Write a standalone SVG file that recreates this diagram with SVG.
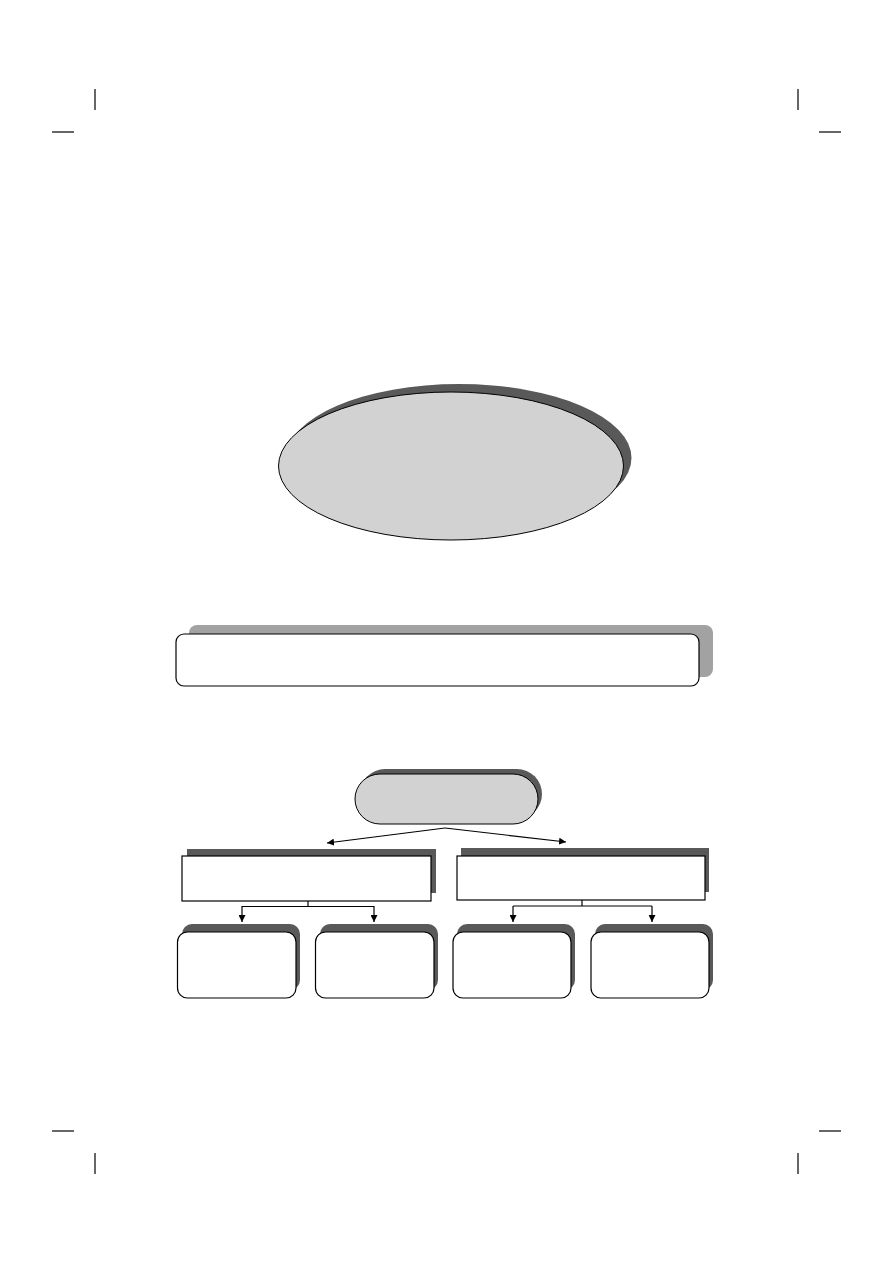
<svg xmlns="http://www.w3.org/2000/svg" width="893" height="1263" viewBox="0 0 893 1263">
<defs>
<style>
.crop{stroke:#000;stroke-width:1.2;fill:none}
.shd{fill:#595959;stroke:none}
.shl{fill:#a2a2a2;stroke:none}
.grey{fill:#d2d2d2;stroke:#000;stroke-width:1}
.white{fill:#fff;stroke:#000;stroke-width:1.2}
.conn{fill:none;stroke:#000;stroke-width:1.2}
</style>
<marker id="ah" viewBox="0 0 10 10" refX="10" refY="5" markerWidth="7" markerHeight="7" markerUnits="userSpaceOnUse" orient="auto">
<path d="M0,0 L10,5 L0,10 z" fill="#000"/>
</marker>
</defs>
<rect width="893" height="1263" fill="#fff"/>
<g id="cropmarks">
<line class="crop" x1="95" y1="89" x2="95" y2="110"/>
<line class="crop" x1="52" y1="132" x2="74" y2="132"/>
<line class="crop" x1="798" y1="89" x2="798" y2="110"/>
<line class="crop" x1="819" y1="132" x2="841" y2="132"/>
<line class="crop" x1="95" y1="1153" x2="95" y2="1174"/>
<line class="crop" x1="52" y1="1131" x2="74" y2="1131"/>
<line class="crop" x1="798" y1="1153" x2="798" y2="1174"/>
<line class="crop" x1="819" y1="1131" x2="841" y2="1131"/>
</g>
<g id="ellipse">
<ellipse class="shd" cx="459" cy="458" rx="172.5" ry="74"/>
<ellipse class="grey" cx="451" cy="466" rx="172.5" ry="74"/>
</g>
<g id="banner">
<rect class="shl" x="189" y="625" width="524" height="52" rx="8"/>
<rect class="white" x="176" y="634" width="523" height="52" rx="8"/>
</g>
<g id="pill">
<rect class="shd" x="360" y="769" width="182" height="50" rx="25"/>
<rect class="grey" x="355" y="774" width="183" height="50" rx="25"/>
</g>
<g id="box-left">
<rect class="shd" x="187" y="849" width="249" height="44"/>
<rect class="white" x="182" y="856" width="249" height="45"/>
</g>
<g id="box-right">
<rect class="shd" x="461" y="848" width="248" height="44"/>
<rect class="white" x="457" y="856" width="248" height="44"/>
</g>
<g id="child1">
<rect class="shd" x="182" y="924" width="118" height="66" rx="10"/>
<rect class="white" x="177.5" y="932" width="118.5" height="66" rx="10"/>
</g>
<g id="child2">
<rect class="shd" x="320" y="924" width="118" height="66" rx="10"/>
<rect class="white" x="315.5" y="932" width="118.5" height="66" rx="10"/>
</g>
<g id="child3">
<rect class="shd" x="457" y="924" width="118" height="66" rx="10"/>
<rect class="white" x="453" y="932" width="118" height="66" rx="10"/>
</g>
<g id="child4">
<rect class="shd" x="595" y="924" width="118" height="66" rx="10"/>
<rect class="white" x="591" y="932" width="118" height="66" rx="10"/>
</g>
<g id="connectors">
<line class="conn" x1="445" y1="828" x2="327" y2="843" marker-end="url(#ah)"/>
<line class="conn" x1="445" y1="828" x2="566" y2="842" marker-end="url(#ah)"/>
<line class="conn" x1="308" y1="901" x2="308" y2="906.5"/>
<line class="conn" x1="242" y1="906.5" x2="374" y2="906.5"/>
<line class="conn" x1="242" y1="906" x2="242" y2="922" marker-end="url(#ah)"/>
<line class="conn" x1="374" y1="906" x2="374" y2="922" marker-end="url(#ah)"/>
<line class="conn" x1="582" y1="900" x2="582" y2="906"/>
<line class="conn" x1="513" y1="906" x2="652" y2="906"/>
<line class="conn" x1="513" y1="906" x2="513" y2="922" marker-end="url(#ah)"/>
<line class="conn" x1="652" y1="906" x2="652" y2="922" marker-end="url(#ah)"/>
</g>
</svg>
